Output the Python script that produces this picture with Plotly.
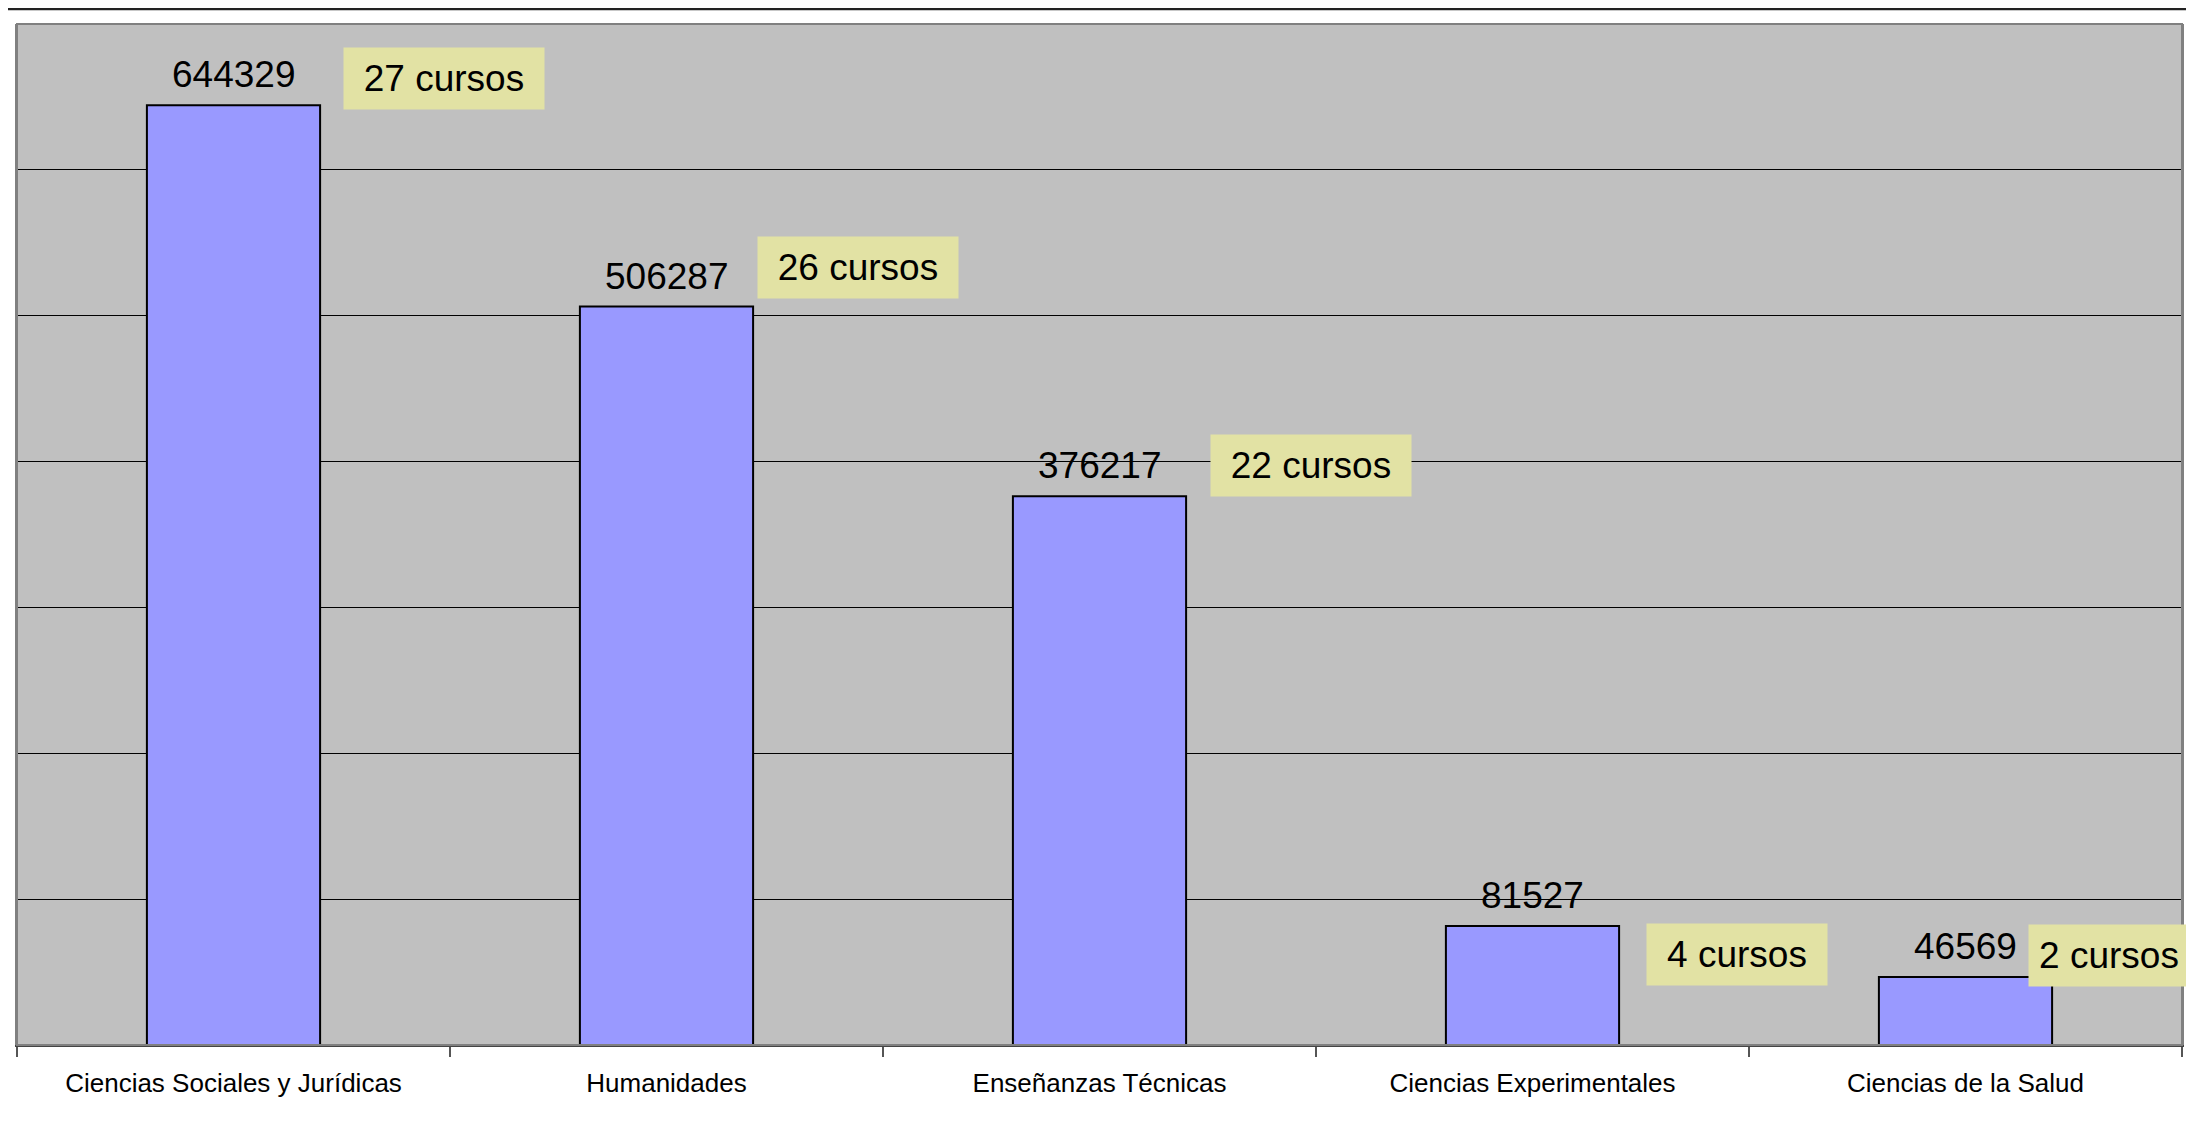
import plotly.graph_objects as go

categories = ["Ciencias Sociales y Jurídicas", "Humanidades", "Enseñanzas Técnicas",
              "Ciencias Experimentales", "Ciencias de la Salud"]
values = [644329, 506287, 376217, 81527, 46569]
cursos = [27, 26, 22, 4, 2]
badge_labels = [f"{n} cursos" for n in cursos]

# layout-only offsets/sizes (pixels) for the yellow course badges, relative to bar top centre
badge_dx = [109, 90, 110, 113, 62]
badge_dy = [27, 39, 31, -28, 22]
badge_w = [180, 180, 180, 160, 140]

FONT = "Liberation Sans, Arial, sans-serif"

fig = go.Figure()
fig.add_trace(go.Bar(
    x=categories, y=values,
    marker=dict(color="#9999ff", line=dict(color="#000000", width=2)),
    width=0.4, showlegend=False, hoverinfo="x+y",
))

annotations = []
for c, v in zip(categories, values):
    annotations.append(dict(
        x=c, y=v, xref="x", yref="y", text=str(v), showarrow=False,
        yanchor="bottom", xanchor="center", yshift=8,
        font=dict(family=FONT, size=37, color="#000000"),
    ))
for c, v, t, dx, dy, w in zip(categories, values, badge_labels, badge_dx, badge_dy, badge_w):
    annotations.append(dict(
        x=c, y=v, xref="x", yref="y", text=t, showarrow=False,
        xanchor="left", yanchor="middle", xshift=dx, yshift=dy,
        font=dict(family=FONT, size=37, color="#000000"),
        bgcolor="#e2e2a4", borderpad=10, width=w, align="center",
    ))

# page body has an 8px default margin, so the figure is sized to fit inside it
fig.update_layout(
    width=2178, height=1106,
    margin=dict(l=9, r=2, t=16, b=69),
    paper_bgcolor="#ffffff", plot_bgcolor="#c0c0c0",
    font=dict(family=FONT, color="#000000"),
    annotations=annotations,
    bargap=0.6,
    shapes=[dict(type="line", xref="paper", yref="paper",
                 x0=-0.01, x1=1.01, y0=1.0147, y1=1.0147,
                 line=dict(color="#222222", width=2.5))],
)
fig.update_xaxes(
    type="category", range=[-0.5, len(categories) - 0.5],
    tickson="boundaries", ticks="outside", ticklen=10,
    tickcolor="#555555", tickwidth=1.5, ticklabelstandoff=14,
    showline=True, linecolor="#444444", linewidth=2, mirror=False,
    showgrid=False, tickfont=dict(family=FONT, size=26, color="#000000"),
)
fig.update_yaxes(
    range=[0, 700000], dtick=100000, showticklabels=False, ticks="",
    showgrid=True, gridcolor="#000000", gridwidth=1.3,
    showline=True, linecolor="#808080", linewidth=2, mirror=True,
    zeroline=False,
)
fig.add_shape(type="rect", xref="paper", yref="paper", x0=0, x1=1, y0=0, y1=1,
              line=dict(color="#808080", width=2), layer="above")

fig.write_html("out.html", config={"displayModeBar": False})
